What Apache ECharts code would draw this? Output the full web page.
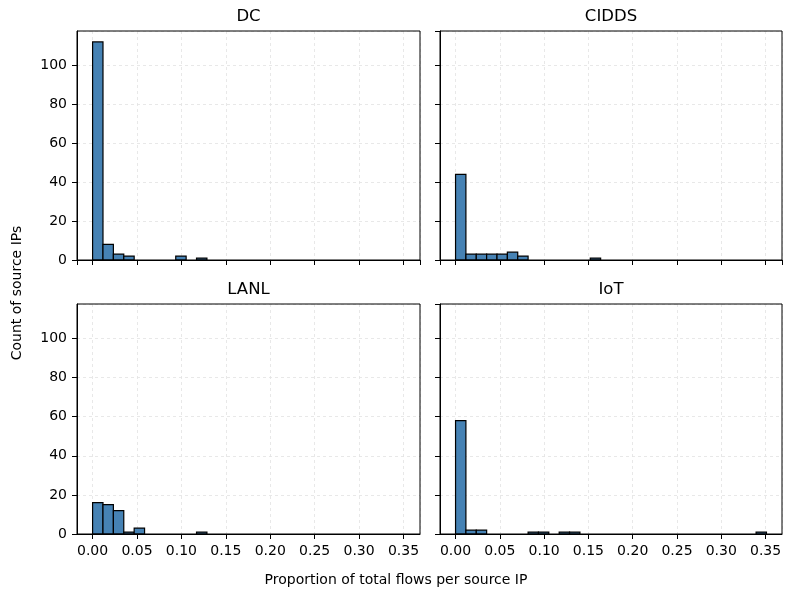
<!DOCTYPE html>
<html><head><meta charset="utf-8">
<script src="https://cdn.jsdelivr.net/npm/echarts@6/dist/echarts.min.js"></script>
<style>html,body{margin:0;padding:0;background:#fff}#c{width:793px;height:599px}</style>
</head><body><div id="c"></div>
<script>
const panelTitles = ['DC', 'CIDDS', 'LANL', 'IoT'];
const binWidth = 0.0117; // 30 equal bins from 0 to 0.351
const dcCounts    = [112, 8, 3, 2, 0, 0, 0, 0, 2, 0, 1, 0, 0, 0, 0, 0, 0, 0, 0, 0, 0, 0, 0, 0, 0, 0, 0, 0, 0, 0];
const ciddsCounts = [44, 3, 3, 3, 3, 4, 2, 0, 0, 0, 0, 0, 0, 1, 0, 0, 0, 0, 0, 0, 0, 0, 0, 0, 0, 0, 0, 0, 0, 0];
const lanlCounts  = [16, 15, 12, 1, 3, 0, 0, 0, 0, 0, 1, 0, 0, 0, 0, 0, 0, 0, 0, 0, 0, 0, 0, 0, 0, 0, 0, 0, 0, 0];
const iotCounts   = [58, 2, 2, 0, 0, 0, 0, 1, 1, 0, 1, 1, 0, 0, 0, 0, 0, 0, 0, 0, 0, 0, 0, 0, 0, 0, 0, 0, 0, 1];
const xTickLabels = ['0.00', '0.05', '0.10', '0.15', '0.20', '0.25', '0.30', '0.35'];
const yTickLabels = ['0', '20', '40', '60', '80', '100'];
const xLabel = 'Proportion of total flows per source IP';
const yLabel = 'Count of source IPs';

const allCounts = [dcCounts, ciddsCounts, lanlCounts, iotCounts];
const FONT = 'DejaVu Sans';
const xMax = binWidth * allCounts[0].length;
const xPad = xMax * 0.05;
const yTop = Math.max(...allCounts.map(a => Math.max(...a))) * 1.05;

const grids = [
  {left: 77, top: 31, width: 343, height: 229},
  {left: 440, top: 31, width: 342, height: 229},
  {left: 77, top: 304, width: 343, height: 230},
  {left: 440, top: 304, width: 342, height: 230}
];

function renderItem(params, api) {
  const c = api.value(2);
  if (!c) return null;
  const p0 = api.coord([api.value(0), c]);
  const p1 = api.coord([api.value(1), 0]);
  return {
    type: 'rect',
    shape: {x: p0[0], y: p0[1], width: p1[0] - p0[0], height: p1[1] - p0[1]},
    style: {fill: '#4682b4', stroke: '#000', lineWidth: 1.2}
  };
}

const gridLine = {show: true, lineStyle: {color: '#e2e2e2', type: [3, 3], width: 0.8}};
const xAxes = grids.map((g, i) => ({
  type: 'value', gridIndex: i,
  min: -xPad, max: xMax + xPad,
  splitNumber: 8, minInterval: 0.05, maxInterval: 0.05,
  axisLine: {show: true, onZero: false, lineStyle: {color: '#000', width: 1}},
  axisTick: {show: true, length: 5, lineStyle: {color: '#000', width: 1}},
  axisLabel: {
    show: i >= 2, margin: 10, color: '#000', fontFamily: FONT, fontSize: 14,
    showMinLabel: false, showMaxLabel: false,
    formatter: v => {
      const k = Math.round(v / 0.05);
      return (Math.abs(v - k * 0.05) < 1e-9 && k >= 0 && k < xTickLabels.length) ? xTickLabels[k] : '';
    }
  },
  splitLine: gridLine
}));
const yAxes = grids.map((g, i) => ({
  type: 'value', gridIndex: i,
  min: 0, max: yTop, interval: 20,
  axisLine: {show: true, onZero: false, lineStyle: {color: '#000', width: 1}},
  axisTick: {show: true, length: 5, lineStyle: {color: '#000', width: 1}},
  axisLabel: {
    show: i % 2 === 0, margin: 10, color: '#000', fontFamily: FONT, fontSize: 14,
    showMaxLabel: false,
    formatter: v => {
      const k = Math.round(v / 20);
      return (Math.abs(v - k * 20) < 1e-9 && k < yTickLabels.length) ? yTickLabels[k] : '';
    }
  },
  splitLine: gridLine
}));

const series = allCounts.map((counts, i) => ({
  type: 'custom', xAxisIndex: i, yAxisIndex: i,
  renderItem: renderItem, clip: true,
  encode: {x: [0, 1], y: 2},
  data: counts.map((c, j) => [j * binWidth, (j + 1) * binWidth, c]),
  silent: true
}));

const graphics = panelTitles.map((t, i) => ({
  type: 'text',
  x: grids[i].left + grids[i].width / 2, y: grids[i].top - 14,
  style: {text: t, fontFamily: FONT, fontSize: 16.5, fill: '#000', align: 'center', verticalAlign: 'middle'}
}));
grids.forEach(g => graphics.push({
  type: 'rect', z: 100, silent: true,
  shape: {x: g.left, y: g.top, width: g.width, height: g.height},
  style: {fill: 'none', stroke: '#000', lineWidth: 1}
}));
graphics.push({type: 'text', x: 396, y: 580,
  style: {text: xLabel, fontFamily: FONT, fontSize: 14, fill: '#000', align: 'center', verticalAlign: 'middle'}});
graphics.push({type: 'text', x: 17, y: 293, rotation: Math.PI / 2,
  style: {text: yLabel, fontFamily: FONT, fontSize: 14, fill: '#000', align: 'center', verticalAlign: 'middle'}});

const chart = echarts.init(document.getElementById('c'), null, {renderer: 'canvas'});
chart.setOption({
  animation: false,
  backgroundColor: '#fff',
  grid: grids.map(g => Object.assign({show: false, containLabel: false}, g)),
  xAxis: xAxes,
  yAxis: yAxes,
  series: series,
  graphic: graphics
});
</script></body></html>
